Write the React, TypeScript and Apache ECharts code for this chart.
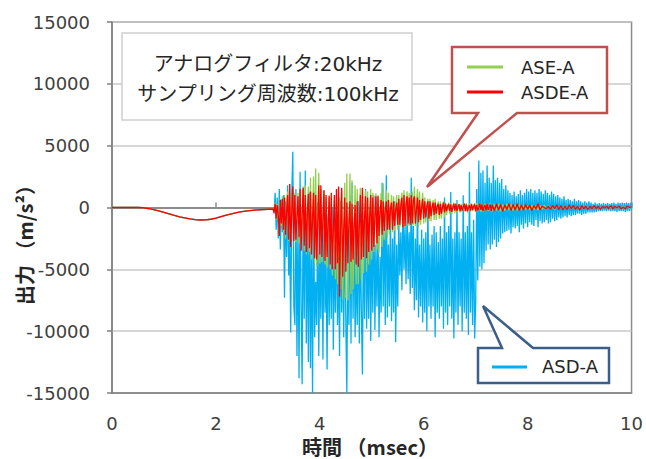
import { useEffect, useRef } from "react";
import * as echarts from "echarts";

// ---------- data ----------
const xTickStep = 2; // msec
const yMin = -15000;
const yMax = 15000;
const yStep = 5000;

// shared smooth response, 0 – 3.1 msec, 0.1 msec step
const smoothStart = 0;
const smoothStep = 0.1;
const smoothValues = [
  0, 0, 0, 0, 0, 0, -20, -80, -170, -280, -400, -520, -640, -750, -840, -920,
  -980, -1010, -1000, -950, -860, -740, -620, -510, -420, -340, -280, -230,
  -190, -160, -140, -120,
];

// active part, 3.12 – 7.30 msec, 0.02 msec step
const activeStart = 3.12;
const activeStep = 0.02;

const asdActive = [
  -500, 1200, -1800, 800, -2500,
  1500, -3400, 600, -2000, 1000,
  -7300, 500, -4000, 1800, -5500,
  -2000, -10100, 1000, 4500, -8000,
  -9500, 1500, -12000, -1000, -13800,
  2900, -8000, -14300, 1500, -9000,
  3000, -11000, -500, -12500, 1200,
  -13000, -2000, -15000, 1250, -10500,
  -6000, -9500, 400, -12000, -3000,
  -9000, -1000, -12300, 200, -8500,
  -4000, -13100, -500, -9500, -2000,
  -9000, 0, -11500, -3000, -8500,
  -1000, -9500, -4000, -12000, 500,
  -8500, -2500, -10500, -500, -9000,
  -15000, -3000, -9500, 1000, -11000,
  2000, -9000, -1500, -10500, -4000,
  -9500, 500, -11000, -2000, -8500,
  -13500, -1000, -9000, 1500, -9800,
  -3000, -9000, 0, -10800, -2500,
  -8500, 1000, -9900, -3000, -8000,
  -1500, -10500, -4000, -8500, 2000,
  -8000, -1000, -9500, 2600, -8900,
  -3000, -8000, -500, -9200, -2500,
  -8500, 500, -10900, -3000, -8000,
  -1000, -5500, -2000, -6700, 500,
  -5000, -1500, -6200, 0, -5800,
  -2000, -7000, 2400, -6500, -1500,
  -8300, -2500, -7500, 1000, -8900,
  -3000, -8000, -1800, -9300, -2500,
  -8500, -2000, -10000, 500, -8000,
  -3000, -9000, -2200, -8000, -1500,
  -10500, -2000, -8500, -2800, -9000,
  -1500, -8000, -2500, -9800, 800,
  -8500, -2000, -9500, -1500, -8000,
  1250, -9000, -2500, -10600, -2000,
  -8500, 600, -9500, -2000, -8000,
  -2500, -10000, 1000, -8500, -2000,
  -9000, -1500, -10300, 2900, -8500,
  -2000, -9500, -1000, -10600, -7700,
  1500, -5900, 3800, -4800, 2800,
  -5000, 3000, -4500, 2000, -3500,
  3400, -3000, 2400, -3400, 2000,
];

const aseActive = [
  -300, 400, -1000, 300, -700,
  -2000, 700, -1500, 900, -2000,
  1000, -2500, -300, 1300, -2700,
  1900, -2900, 0, 1500, -2500,
  1200, -2800, -600, 1200, -2900,
  1500, -3300, -800, 1700, -3500,
  1800, -3800, -300, 1700, -3600,
  2400, -4200, -500, 2500, -4500,
  3150, -4800, -600, 2800, -4500,
  1500, -4400, -1000, 1400, -4600,
  800, -4800, -1500, 1000, -5000,
  400, -5500, -2000, 600, -5800,
  500, -6200, -2500, 800, -6600,
  1500, -7500, -2000, 2000, -7300,
  2750, -7500, -1500, 2750, -7000,
  2200, -6600, -1800, 1800, -6200,
  1500, -6200, -1600, 1600, -5800,
  1500, -5300, -1300, 1400, -5200,
  1300, -4600, -1000, 1500, -4200,
  1200, -3600, -800, 1150, -3400,
  1000, -3700, -500, 1200, -3200,
  1950, -2600, -300, 1400, -2400,
  1200, -2200, -200, 1000, -2000,
  900, -1900, 0, 1000, -1800,
  1000, -1600, 300, 1200, -1500,
  1400, -1600, 200, 1300, -1500,
  1200, -1500, 400, 1300, -1400,
  1700, -1500, 300, 1500, -1600,
  1300, -1400, 200, 1200, -1300,
  800, -1200, 0, 700, -1100,
  700, -1100, -100, 600, -1000,
  700, -1000, 0, 500, -900,
  500, -900, -100, 500, -800,
  400, -600, 0, 400, -500,
  350, -550, 100, 400, -450,
  350, -400, 0, 300, -400,
  300, -350, 50, 350, -300,
  350, -400, 0, 300, -350,
  300, -300, 50, 350, -350,
  350, -300, 0, 300, -350,
  300, -350, 50, 300, -300,
  300, -300, 0, 350, -300,
];

const asdeActive = [
  -400, 300, -900, 200, -600,
  -2300, 600, -1300, 700, -1800,
  800, -2200, -400, 1000, -2600,
  1900, -3200, -300, 1700, -2700,
  1000, -2600, -800, 900, -2400,
  1500, -3500, -600, 1600, -3100,
  1000, -3600, -500, 1100, -3300,
  1300, -3800, -800, 1200, -4100,
  1000, -4200, -1200, 1800, -3800,
  1800, -4000, -900, 1400, -4300,
  1000, -4000, -1500, 900, -4600,
  1200, -5000, -1800, 1000, -5000,
  1500, -4500, 1700, -7200, -1500,
  1600, -5600, -1800, 800, -5200,
  400, -4500, -1200, 500, -4400,
  300, -4200, -1500, 200, -4600,
  500, -4800, -1500, 1000, -4200,
  1600, -4000, -1000, 900, -4100,
  800, -3600, -800, 1000, -3500,
  800, -3200, -700, 900, -2900,
  900, -2300, -300, 600, -2200,
  500, -1900, -200, 500, -1800,
  600, -1800, -100, 400, -1800,
  500, -1500, -200, 400, -1400,
  700, -1400, 200, 800, -1600,
  1000, -1500, 300, 900, -1300,
  800, -1400, 1000, -1300, 600,
  900, -1300, -200, 800, -1200,
  600, -1000, 0, 700, -900,
  500, -800, 100, 500, -900,
  500, -700, 0, 400, -600,
  400, -500, 100, 300, -600,
  300, -500, 0, 400, -400,
  300, -300, 100, 300, -300,
  250, -350, 0, 300, -250,
  300, -300, 100, 250, -300,
  200, -250, 50, 300, -300,
  250, -300, 0, 200, -250,
  300, -200, 100, 250, -300,
  200, -250, 0, 300, -200,
  250, -300, 50, 200, -250,
  300, -200, 0, 250, -300,
];

// tails, from 7.32 msec to 10 msec
const tailStart = 7.32;
const asdTailStep = 0.02;
const asdTail = [
  -3000, 3400, -2600, 2200, -3200,
  2400, -2800, 2000, -2500, 2300,
  -2100, 1500, -2000, 1800, -1900,
  1400, -1800, 1200, -2100, 1000,
  -1600, 1300, -1700, 900, -1500,
  1100, -2000, 1400, -1400, 1000,
  -1700, 1200, -1300, 1500, -1600,
  1300, -1200, 1500, -1400, 1200,
  -1500, 1400, -1000, 1200, -1600,
  1500, -1100, 1300, -1300, 1100,
  -1200, 1400, -1000, 1200, -1300,
  1000, -1200, 1300, -900, 1100,
  -1100, 900, -1000, 1000, -800,
  800, -900, 700, -800, 900,
  -700, 600, -800, 700, -600,
  600, -700, 500, -600, 700,
  -600, 500, -500, 600, -500,
  500, -600, 400, -500, 500,
  -500, 400, -400, 500, -400,
  400, -400, 300, -400, 400,
  -350, 300, -300, 350, -300,
  300, -300, 350, -250, 300,
  -300, 350, -250, 300, -300,
  350, -300, 400, -300, 300,
  -350, 400, -300, 350, -300,
  400, -300, 350, -350, 400,
  -300, 350, -300, 400, -200,
];

const smallTailStep = 0.04;
const aseTail = [
  -300, 300, -250, 300, -300, 250, -250, 300, -200, 250,
  -250, 200, -250, 250, -200, 200, -200, 150, -200, 200,
  -150, 150, -200, 150, -150, 200, -150, 150, -150, 100,
  -150, 150, -100, 150, -150, 100, -100, 150, -100, 100,
  -150, 100, -100, 150, -100, 100, -100, 100, -100, 100,
  -100, 50, -100, 100, -50, 100, -100, 50, -50, 100,
  -100, 50, -50, 100, -50, 50, -50, 0,
];
const asdeTail = [
  200, -250, 300, -200, 250, -300, 200, -150, 300, -250,
  250, -200, 300, -250, 200, -200, 250, -150, 200, -250,
  150, -100, 300, -200, 100, 0, -100, 100, -150, 150,
  -100, 200, -150, 150, -200, 100, -150, 200, -100, 150,
  -150, 100, -200, 150, -100, 100, -150, 100, -100, 150,
  -100, 100, -150, 100, -50, 100, -100, 150, -100, 100,
  -50, 100, -100, 50, -100, 100, 0, 50,
];

// ---------- styling ----------
const NUM_FONT = '"DejaVu Sans", "Noto Sans CJK JP", sans-serif';
const JP_FONT = '"Noto Sans CJK JP", "DejaVu Sans", sans-serif';
const BLUE = "#00B0F0";
const GREEN = "#92D050";
const RED = "#FF0000";

const toPairs = (vals: number[], start: number, step: number) =>
  vals.map((v, i) => [+(start + i * step).toFixed(3), v]);

const buildSeries = (active: number[], tail: number[], tailStep: number) => [
  ...toPairs(smoothValues, smoothStart, smoothStep),
  ...toPairs(active, activeStart, activeStep),
  ...toPairs(tail, tailStart, tailStep),
];

const lineSeries = (name: string, color: string, data: number[][], width: number) => ({
  type: "line",
  name,
  data,
  symbol: "none",
  showSymbol: false,
  silent: true,
  lineStyle: { color, width },
  itemStyle: { color },
});

const txt = (
  text: string,
  x: number,
  y: number,
  size: number,
  family: string,
  align: string,
  weight: string = "normal",
  rotation = 0,
) => ({
  type: "text",
  x,
  y,
  rotation,
  z: 110,
  style: {
    text,
    fontSize: size,
    fontFamily: family,
    fontWeight: weight,
    lineHeight: size,
    fill: "#262626",
    align,
    verticalAlign: "middle",
    textAlign: align,
    textVerticalAlign: "middle",
  },
});

export default function App() {
  const ref = useRef<HTMLDivElement>(null);

  useEffect(() => {
    if (!ref.current) return;
    const chart = echarts.init(ref.current, null, { renderer: "svg" });
    const option: any = {
      animation: false,
      backgroundColor: "#ffffff",
      grid: {
        left: 112,
        top: 22,
        width: 520,
        height: 371,
        show: true,
        borderColor: "#8c8c8c",
        borderWidth: 1.5,
        backgroundColor: "transparent",
      },
      xAxis: [
        {
          type: "value",
          min: 0,
          max: 10,
          interval: xTickStep,
          position: "bottom",
          axisLine: { onZero: false, lineStyle: { color: "#7f7f7f", width: 1.5 } },
          axisTick: { show: false },
          axisLabel: {
            margin: 22,
            fontSize: 18,
            lineHeight: 16,
            fontFamily: NUM_FONT,
            color: "#404040",
          },
          splitLine: { show: false },
        },
        {
          type: "value",
          min: 0,
          max: 10,
          interval: xTickStep,
          position: "bottom",
          axisLine: {
            onZero: true,
            onZeroAxisIndex: 0,
            lineStyle: { color: "#8c8c8c", width: 1.8 },
          },
          axisTick: {
            show: true,
            inside: true,
            length: 5,
            lineStyle: { color: "#8c8c8c", width: 1.5 },
          },
          axisLabel: { show: false },
          splitLine: { show: false },
        },
      ],
      yAxis: {
        type: "value",
        min: yMin,
        max: yMax,
        interval: yStep,
        axisLine: { show: true, lineStyle: { color: "#7f7f7f", width: 1.5 } },
        axisTick: {
          show: true,
          length: 5,
          lineStyle: { color: "#7f7f7f", width: 1.5 },
        },
        axisLabel: {
          margin: 22,
          fontSize: 18,
          fontFamily: NUM_FONT,
          color: "#404040",
          formatter: (v: number) => String(v),
        },
        splitLine: { show: true, lineStyle: { color: "#c8c8c8", width: 1.5 } },
      },
      series: [
        lineSeries("ASD-A", BLUE, buildSeries(asdActive, asdTail, asdTailStep), 1.3),
        lineSeries("ASE-A", GREEN, buildSeries(aseActive, aseTail, smallTailStep), 1.3),
        lineSeries("ASDE-A", RED, buildSeries(asdeActive, asdeTail, smallTailStep), 1.3),
      ],
      graphic: [
        // annotation box
        {
          type: "rect",
          z: 100,
          shape: { x: 122, y: 33, width: 290, height: 87 },
          style: { fill: "#ffffff", stroke: "#d0d0d0", lineWidth: 1.5 },
        },
        txt("アナログフィルタ:20kHz", 268, 64, 20, NUM_FONT, "center"),
        txt("サンプリング周波数:100kHz", 268, 94, 20, NUM_FONT, "center"),
        // red callout (ASE-A / ASDE-A)
        {
          type: "polygon",
          z: 100,
          shape: {
            points: [
              [452, 47],
              [607, 47],
              [607, 113],
              [517, 113],
              [427, 187],
              [478, 113],
              [452, 113],
            ],
          },
          style: { fill: "#ffffff", stroke: "#C0504D", lineWidth: 2.5 },
        },
        {
          type: "line",
          z: 105,
          shape: { x1: 467, y1: 67, x2: 503, y2: 67 },
          style: { stroke: GREEN, lineWidth: 3 },
        },
        txt("ASE-A", 521, 67, 18, NUM_FONT, "left"),
        {
          type: "line",
          z: 105,
          shape: { x1: 467, y1: 92, x2: 503, y2: 92 },
          style: { stroke: RED, lineWidth: 3 },
        },
        txt("ASDE-A", 521, 92, 18, NUM_FONT, "left"),
        // blue callout (ASD-A)
        {
          type: "polygon",
          z: 100,
          shape: {
            points: [
              [478, 348],
              [502, 348],
              [483, 306],
              [533, 348],
              [609, 348],
              [609, 383],
              [478, 383],
            ],
          },
          style: { fill: "#ffffff", stroke: "#3A5F8B", lineWidth: 2.5 },
        },
        {
          type: "line",
          z: 105,
          shape: { x1: 492, y1: 367, x2: 527, y2: 367 },
          style: { stroke: BLUE, lineWidth: 3 },
        },
        txt("ASD-A", 542, 366, 18, NUM_FONT, "left"),
        // axis titles
        txt("時間 （msec）", 370, 446, 20, JP_FONT, "center", "bold"),
        txt("出力 （m/s²）", 24, 240, 20, JP_FONT, "center", "bold", Math.PI / 2),
      ],
    };
    chart.setOption(option);
    return () => chart.dispose();
  }, []);

  return (
    <div
      ref={ref}
      style={{ position: "fixed", left: 0, top: 0, width: 646, height: 459 }}
    />
  );
}
